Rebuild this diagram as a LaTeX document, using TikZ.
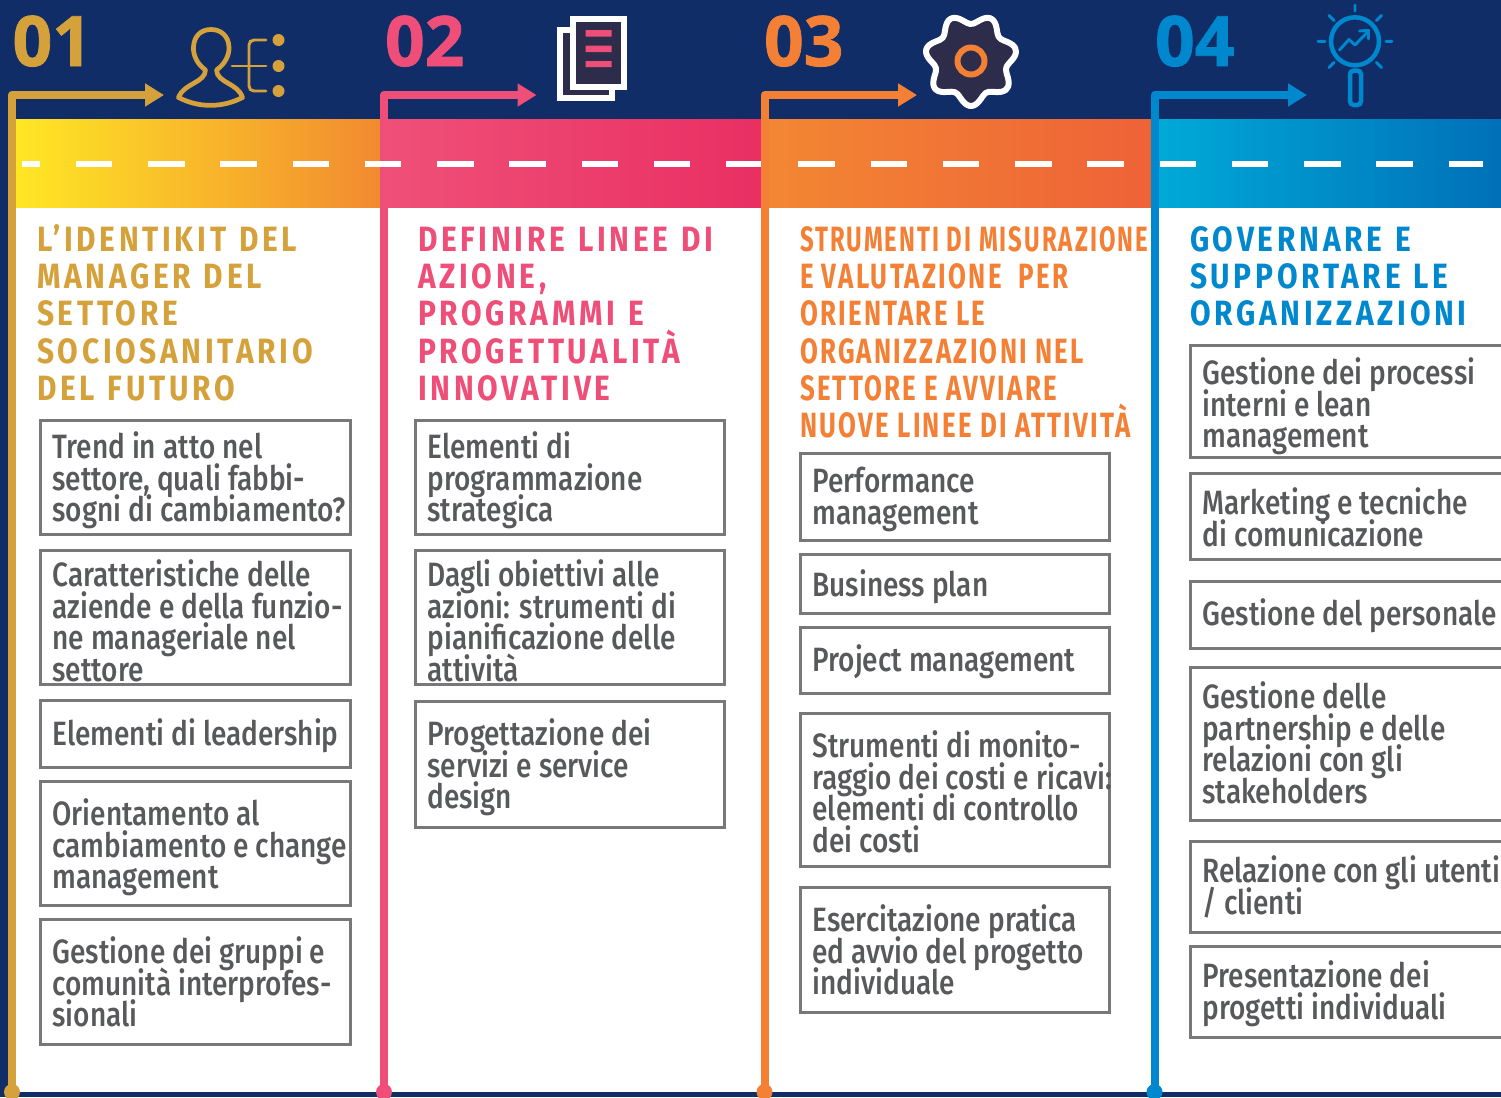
\documentclass[tikz,border=0pt]{standalone}
\usepackage{fontspec}
\setmainfont{Fira Sans}
\newfontfamily\bodyf[FakeStretch=0.83]{Fira Sans Medium}
\newfontfamily\headf[FakeStretch=0.85,LetterSpace=10.6,WordSpace=1.2]{Fira Sans Bold}
\newfontfamily\headcf[FakeStretch=0.735,LetterSpace=6.5]{Fira Sans Bold}
\newfontfamily\headcfirst[FakeStretch=0.68,LetterSpace=5.7]{Fira Sans Bold}
\newfontfamily\numf[BoldFeatures={FakeBold=1.2}]{Open Sans}
\usetikzlibrary{arrows.meta,calc}
\normallineskiplimit=-100pt
\lineskiplimit=-100pt
\definecolor{navy}{HTML}{112D68}
\definecolor{cA}{HTML}{D5A13A}
\definecolor{cB}{HTML}{EE4E77}
\definecolor{cC}{HTML}{F38035}
\definecolor{cD}{HTML}{0088CE}
\definecolor{txt}{HTML}{58595B}
\definecolor{bord}{HTML}{787878}
\definecolor{dark}{HTML}{2D2D4B}
\tikzset{
 x=0.05cm,y=-0.05cm,
 itembox/.style={draw=bord,line width=3.8pt,anchor=north west,inner sep=0pt,outer sep=0pt},
 bodytext/.style={anchor=north west,inner sep=0pt,outer sep=0pt,align=left,text=txt,font=\bodyf\fontsize{48}{45.5}\selectfont},
 headtext/.style={anchor=north west,inner sep=0pt,outer sep=0pt,align=left,font=\headf\fontsize{50}{53.2}\selectfont},
 headnarrow/.style={headtext,font=\headcf\fontsize{50}{53.2}\selectfont},
 numtext/.style={anchor=base west,inner sep=0pt,outer sep=0pt,font=\numf\bfseries\fontsize{99}{99}\selectfont},
 flow/.style={line width=11.4pt,line join=round,-{Triangle[length=27pt,width=31.3pt]}},
 dashline/.style={white,line width=8pt,dash pattern=on 52pt off 50.8pt,dash phase=26.3pt},
 thin icon/.style={line width=4.2pt,line cap=round,line join=round},
}
% id, x1, y1, x2, y2 (outer edges), first baseline, text
\newcommand{\itemcard}[7]{%
 \node[itembox,minimum width={(#4-#2-2.7)*0.05cm},minimum height={(#5-#3-2.7)*0.05cm}] (#1) at (#2+1.35,#3+1.35) {};
 \node[bodytext] (#1t) at (#2+13.5,#6-29) {\rule{0pt}{42.7pt}#7};
}
\newcommand{\railto}[2]{% id, colour
 \fill[#2] (#1dot) circle (8);
 \draw[flow,#2] (#1dot) |- (#1tip);
}
\begin{document}
\begin{tikzpicture}
\useasboundingbox (0,0) rectangle (1501,1097);
\fill[navy] (0,0) rectangle (1501,1097);
\fill[white] (8,207) rectangle (1501,1092);
% colour bands
\shade[left color={rgb,255:red,255;green,233;blue,36},right color={rgb,255:red,242;green,138;blue,48}] (8,119) rectangle (381,207);
\shade[left color={rgb,255:red,239;green,80;blue,120},right color={rgb,255:red,233;green,47;blue,99}] (381,119) rectangle (761,207);
\shade[left color={rgb,255:red,243;green,135;blue,51},right color={rgb,255:red,238;green,98;blue,55}] (761,119) rectangle (1152,207);
\shade[left color={rgb,255:red,0;green,170;blue,216},right color={rgb,255:red,0;green,112;blue,184}] (1152,119) rectangle (1501,207);
% rails
\coordinate (adot) at (12,1092); \coordinate (atip) at (164,95);
\coordinate (bdot) at (384,1092); \coordinate (btip) at (536.5,95);
\coordinate (cdot) at (764.5,1092); \coordinate (ctip) at (917,95);
\coordinate (ddot) at (1154.5,1092); \coordinate (dtip) at (1307,95);
\coordinate (dashstart) at (22,164); \coordinate (dashend) at (1483,164);
\railto{a}{cA}
\railto{b}{cB}
\draw[dashline] (dashstart) -- (dashend);
\railto{c}{cC}
\railto{d}{cD}
% numbers
\node[numtext,text=cA] (n1) at (12.5,66) {01};
\node[numtext,text=cB] (n2) at (385,66) {02};
\node[numtext,text=cC] (n3) at (764,66) {03};
\node[numtext,text=cD] (n4) at (1155,66) {04};
% person icon
\draw[cA,line width=6.7pt,line join=round] (178.5,97.5)
  .. controls (184,83) and (205,83) .. (205.5,70)
  .. controls (197,64) and (193,55) .. (193.5,47)
  .. controls (194,36) and (201,29.5) .. (211,29.5)
  .. controls (221,29.5) and (228.5,36) .. (229,47)
  .. controls (229.5,55) and (225,64) .. (216.5,70)
  .. controls (217,83) and (238,83) .. (242.5,97.5)
  .. controls (222,108) and (199,108) .. (178.5,97.5) -- cycle;
\draw[cA,line width=4.2pt,line cap=round] (232,66) -- (266,66);
\draw[cA,line width=4.2pt,line cap=round,rounded corners=7] (266,40) -- (249,40) -- (249,91) -- (266,91);
\fill[cA] (278.5,40) circle (6) (278.5,66) circle (6) (278.5,91) circle (6);
% document icon
\draw[white,fill=dark,line width=8.5pt] (560,30) rectangle (612,98);
\draw[white,fill=dark,line width=8.5pt] (573,19) rectangle (624,87);
\fill[cB] (585.7,30) rectangle (611.7,36.5) (585.7,45.5) rectangle (611.7,52) (585.7,61) rectangle (611.7,67);
% gear icon
\draw[white,fill=dark,line width=8.5pt,line join=round] plot[smooth cycle,samples=71,domain=0:355] ({971+(41+5*cos(7*(\x-90)))*cos(\x)},{60+(41+5*cos(7*(\x-90)))*sin(\x)});
\draw[cC,line width=8.5pt] (971,61) circle (13.5);
% magnifier icon
\draw[cD,line width=6.4pt] (1355,41.3) circle (24);
\draw[cD,line width=6.4pt,rounded corners=5.4] (1350,70.5) rectangle (1361,105);
\draw[cD,thin icon] (1355,5) -- (1355,11) (1318,41.3) -- (1325,41.3) (1386,41.3) -- (1392,41.3)
  (1329,15.5) -- (1334,20.5) (1376.5,20.5) -- (1381.5,15.5) (1329,67.5) -- (1334,62.5) (1376.5,62.5) -- (1381.5,67.5);
\draw[cD,thin icon] (1339.5,50) -- (1349,39.5) -- (1355,45) -- (1368,31.5) (1359.5,31) -- (1368.5,30.5) -- (1368.5,39);
% column 1
\node[headtext,text=cA] (h1) at (37,251-34) {\rule{0pt}{48.4pt}L’IDENTIKIT DEL\\MANAGER DEL\\SETTORE\\SOCIOSANITARIO\\DEL FUTURO};
\itemcard{a1}{39}{419}{352}{536}{457}{Trend in atto nel\\settore, quali fabbi-\\sogni di cambiamento?}
\itemcard{a2}{39}{549}{352}{686}{585}{Caratteristiche delle\\aziende e della funzio-\\ne manageriale nel\\settore}
\itemcard{a3}{39}{699}{352}{769}{744}{Elementi di leadership}
\itemcard{a4}{39}{780}{352}{907}{824}{Orientamento al\\cambiamento e change\\management}
\itemcard{a5}{39}{918}{352}{1046}{962}{Gestione dei gruppi e\\comunità interprofes-\\sionali}
% column 2
\node[headtext,text=cB] (h2) at (418,251-34) {\rule{0pt}{48.4pt}DEFINIRE LINEE DI\\AZIONE,\\PROGRAMMI E\\PROGETTUALITÀ\\INNOVATIVE};
\itemcard{b1}{414}{419}{726}{536}{457}{Elementi di\\programmazione\\strategica}
\itemcard{b2}{414}{549}{726}{686}{585}{Dagli obiettivi alle\\azioni: strumenti di\\pianificazione delle\\attività}
\itemcard{b3}{414}{700}{726}{829}{744}{Progettazione dei\\servizi e service\\design}
% column 3
\node[headnarrow,text=cC] (h3) at (800,251-34) {\rule{0pt}{48.4pt}{\headcfirst STRUMENTI DI MISURAZIONE}\\E VALUTAZIONE\ \ PER\\ORIENTARE LE\\ORGANIZZAZIONI NEL\\SETTORE E AVVIARE\\NUOVE LINEE DI ATTIVITÀ};
\itemcard{c1}{799}{452}{1111}{542}{491}{Performance\\management}
\itemcard{c2}{799}{553}{1111}{615}{595}{Business plan}
\itemcard{c3}{799}{626}{1111}{695}{670}{Project management}
\itemcard{c4}{799}{712}{1111}{868}{756}{Strumenti di monito-\\raggio dei costi e ricavi:\\elementi di controllo\\dei costi}
\itemcard{c5}{799}{886}{1111}{1014}{930}{Esercitazione pratica\\ed avvio del progetto\\individuale}
% column 4
\node[headtext,text=cD] (h4) at (1190,251-34) {\rule{0pt}{48.4pt}GOVERNARE E\\SUPPORTARE LE\\ORGANIZZAZIONI};
\itemcard{d1}{1189}{344}{1505}{459}{383}{Gestione dei processi\\interni e lean\\management}
\itemcard{d2}{1189}{472}{1505}{561}{513}{Marketing e tecniche\\di comunicazione}
\itemcard{d3}{1189}{580}{1505}{650}{624}{Gestione del personale}
\itemcard{d4}{1189}{666}{1505}{822}{707}{Gestione delle\\partnership e delle\\relazioni con gli\\stakeholders}
\itemcard{d5}{1189}{840}{1505}{934}{881}{Relazione con gli utenti\\/ clienti}
\itemcard{d6}{1189}{945}{1505}{1039}{986}{Presentazione dei\\progetti individuali}
\end{tikzpicture}
\end{document}
